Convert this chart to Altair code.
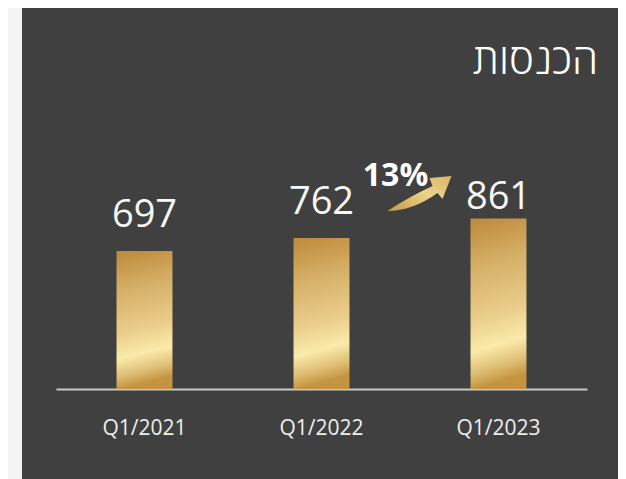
import altair as alt
import pandas as pd

# ---- data ----
quarters = ["Q1/2021", "Q1/2022", "Q1/2023"]
revenues = [697, 762, 861]
growth_labels = ["13%"]
title_text = ["הכנסות"]

df = pd.DataFrame({"quarter": quarters, "revenue": revenues})
ann = pd.DataFrame({"quarter": [quarters[-1]], "revenue": [revenues[-1]], "label": growth_labels})
ttl = pd.DataFrame({"t": title_text})
deco = pd.DataFrame({"k": [0]})

W, H = 531, 198
FONT = "Open Sans"
BG = "#404040"

bar_grad = {
    "gradient": "linear",
    "x1": 0, "y1": 0, "x2": 0.1, "y2": 1,
    "stops": [
        {"offset": 0.0, "color": "#bd8a3a"},
        {"offset": 0.3, "color": "#d6b068"},
        {"offset": 0.6, "color": "#eace8b"},
        {"offset": 0.78, "color": "#fbeaaa"},
        {"offset": 0.9, "color": "#e0c078"},
        {"offset": 1.0, "color": "#c4943e"},
    ],
}
arrow_grad = {
    "gradient": "linear",
    "x1": 0, "y1": 1, "x2": 1, "y2": 0,
    "stops": [
        {"offset": 0.0, "color": "#c39a42"},
        {"offset": 0.55, "color": "#ecd48c"},
        {"offset": 1.0, "color": "#d8b463"},
    ],
}
arrow_path = (
    "M -0.985 0.530 Q -0.288 0.076 0.379 -0.227 L 0.288 -0.470 L 0.955 -0.530 "
    "L 0.682 0.167 L 0.530 -0.015 Q -0.227 0.530 -0.985 0.530 Z"
)

x_enc = alt.X(
    "quarter:N",
    sort=quarters,
    scale=alt.Scale(paddingInner=0.684, paddingOuter=0.342),
    axis=alt.Axis(
        title=None, labelAngle=0, ticks=False, tickSize=0, grid=False,
        labelFont=FONT, labelFontSize=21, labelColor="#eeeeee", labelPadding=28,
        domainColor="#c8c8c8", domainWidth=2,
    ),
)
y_enc = alt.Y("revenue:Q", scale=alt.Scale(domain=[0, 1000]), axis=None)

base = alt.Chart(df).encode(x=x_enc, y=y_enc)

bars = base.mark_bar(fill=bar_grad, stroke=None)

labels_a = base.transform_filter(alt.datum.quarter != quarters[-1]).mark_text(
    font=FONT, fontSize=38, color="#f7f7f7", baseline="alphabetic", dy=-24
).encode(text="revenue:Q")

labels_b = base.transform_filter(alt.datum.quarter == quarters[-1]).mark_text(
    font=FONT, fontSize=38, color="#f7f7f7", baseline="alphabetic", dy=-9.5
).encode(text="revenue:Q")

ann_base = alt.Chart(ann).encode(
    x=alt.X("quarter:N", sort=quarters), y=alt.Y("revenue:Q")
)
growth_text = ann_base.mark_text(
    font=FONT, fontSize=32, fontWeight="bold", color="white",
    baseline="alphabetic", xOffset=-103, yOffset=-32.5,
).encode(text="label:N")

arrow = ann_base.mark_point(
    shape=arrow_path, size=4356, filled=True, fill=arrow_grad,
    opacity=1, strokeWidth=0, xOffset=-78.5, yOffset=-25,
)

strip = alt.Chart(deco).mark_rect(color="#f3f3f3").encode(
    x=alt.value(-48), x2=alt.value(-34), y=alt.value(-183), y2=alt.value(H + 110)
)

title_mark = alt.Chart(ttl).mark_text(
    font=FONT, fontSize=42, fontWeight=300, color="white",
    align="right", baseline="alphabetic",
).encode(text="t:N", x=alt.value(W + 11), y=alt.value(-117))

chart = alt.layer(strip, bars, labels_a, labels_b, growth_text, arrow, title_mark).properties(
    width=W,
    height=H,
    padding={"left": 48, "top": 183, "right": 31, "bottom": 100},
    autosize="none",
    background=BG,
).configure_view(strokeWidth=0)

chart.save("out.html", embed_options={"renderer": "svg", "actions": False})
